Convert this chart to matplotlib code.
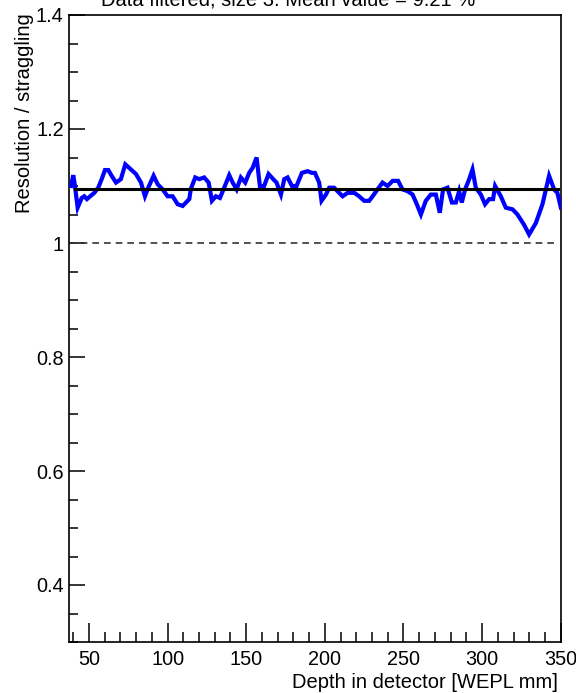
import matplotlib
matplotlib.use("Agg")
import matplotlib.pyplot as plt
import numpy as np

plt.rcParams['font.family'] = ['Liberation Sans', 'DejaVu Sans']

depth = [38.6, 40.0, 41.1, 42.8, 45.4, 47.0, 48.7, 50.8, 53.4, 55.9, 58.1, 60.2, 62.3, 64.4,
         67.2, 70.3, 73.1, 76.7, 79.9, 83.1, 85.6, 87.7, 91.1, 93.7, 96.9, 100.0, 103.2,
         106.4, 109.6, 113.8, 114.8, 117.6, 120.1, 123.3, 126.1, 128.2, 130.7, 133.3, 136.0,
         139.2, 141.4, 143.9, 146.6, 149.4, 151.9, 154.1, 156.6, 158.7, 161.4, 164.2, 167.2,
         169.3, 172.1, 174.2, 176.3, 179.1, 182.0, 185.4, 189.0, 191.8, 193.7, 196.4, 197.9,
         200.7, 202.8, 205.9, 211.3, 214.5, 218.7, 221.8, 225.0, 228.2, 230.4, 233.5, 236.7,
         239.9, 243.1, 246.6, 249.4, 252.6, 255.8, 258.5, 261.1, 264.2, 267.4, 270.6, 273.1,
         275.2, 278.0, 280.8, 283.3, 285.4, 287.1, 289.2, 291.8, 293.9, 296.0, 299.2, 301.9,
         304.5, 307.0, 308.3, 311.9, 315.1, 319.4, 322.5, 326.7, 329.9, 334.2, 338.4, 342.6,
         345.8, 347.9, 350.1]
ratio = [1.100, 1.119, 1.100, 1.062, 1.079, 1.082, 1.077, 1.082, 1.088, 1.097, 1.112, 1.128,
         1.128, 1.118, 1.106, 1.112, 1.138, 1.129, 1.121, 1.106, 1.082, 1.097, 1.118, 1.103,
         1.094, 1.082, 1.082, 1.068, 1.065, 1.077, 1.095, 1.115, 1.112, 1.115, 1.106, 1.074,
         1.082, 1.079, 1.097, 1.119, 1.106, 1.094, 1.115, 1.106, 1.123, 1.132, 1.150, 1.100,
         1.100, 1.121, 1.112, 1.106, 1.085, 1.112, 1.115, 1.100, 1.100, 1.123, 1.126, 1.123,
         1.123, 1.106, 1.074, 1.085, 1.097, 1.097, 1.082, 1.088, 1.088, 1.082, 1.074, 1.074,
         1.082, 1.094, 1.106, 1.100, 1.109, 1.109, 1.094, 1.091, 1.085, 1.068, 1.050, 1.074,
         1.085, 1.085, 1.053, 1.094, 1.097, 1.071, 1.071, 1.091, 1.071, 1.094, 1.112, 1.129,
         1.097, 1.085, 1.068, 1.077, 1.077, 1.100, 1.082, 1.062, 1.059, 1.050, 1.032, 1.015,
         1.035, 1.068, 1.118, 1.094, 1.088, 1.062]

mean_value = 1.094
mean_range = [41.0, 348.0]
ref_value = 1.0
ref_range = [37.5, 347.0]

title = "Data filtered, size 3. Mean value = 9.21 %"
xlabel = "Depth in detector [WEPL mm]"
ylabel = "Resolution / straggling"
xticks = [50, 100, 150, 200, 250, 300, 350]
yticks = [0.4, 0.6, 0.8, 1.0, 1.2, 1.4]
ytick_labels = ["0.4", "0.6", "0.8", "1", "1.2", "1.4"]

W, H = 576, 693
fig = plt.figure(figsize=(W / 100, H / 100), dpi=100)
ax = fig.add_axes([69.3 / W, 1 - 642 / H, (560.7 - 69.3) / W, (642 - 15) / H])

ax.plot(ref_range, [ref_value, ref_value], color='#333333', lw=1.2,
        linestyle=(0, (4, 3)), zorder=2)
ax.plot(depth, ratio, color='#0000ff', lw=3.0, zorder=3, clip_on=True,
        solid_joinstyle='miter')
ax.plot(mean_range, [mean_value, mean_value], color='black', lw=2.2, zorder=4)

ax.set_xlim(37.5, 350)
ax.set_ylim(0.3, 1.4)

ax.set_xticks(xticks)
ax.set_xticklabels([str(t) for t in xticks])
ax.set_xticks(np.arange(40, 351, 10), minor=True)
ax.set_yticks(yticks)
ax.set_yticklabels(ytick_labels)
ax.set_yticks(np.arange(0.3, 1.401, 0.05), minor=True)

ax.tick_params(axis='x', which='major', direction='in', length=13.7, width=1.1,
               labelsize=14.3, pad=6, top=False)
ax.tick_params(axis='x', which='minor', direction='in', length=7.2, width=1.1, top=False)
ax.tick_params(axis='y', which='major', direction='in', length=11.3, width=1.1,
               labelsize=14.3, pad=4, right=False)
ax.tick_params(axis='y', which='minor', direction='in', length=6.5, width=1.1, right=False)

for s in ax.spines.values():
    s.set_linewidth(1.2)

fig.text(288 / W, 1 - 5 / H, title, ha='center', va='baseline', fontsize=14.5)
fig.text(558 / W, 1 - 683 / H, xlabel, ha='right', va='center', fontsize=14.5)
fig.text(25 / W, 1 - 13 / H, ylabel, ha='center', va='top', rotation=90, fontsize=14.5)

fig.savefig("out.png", dpi=100)
